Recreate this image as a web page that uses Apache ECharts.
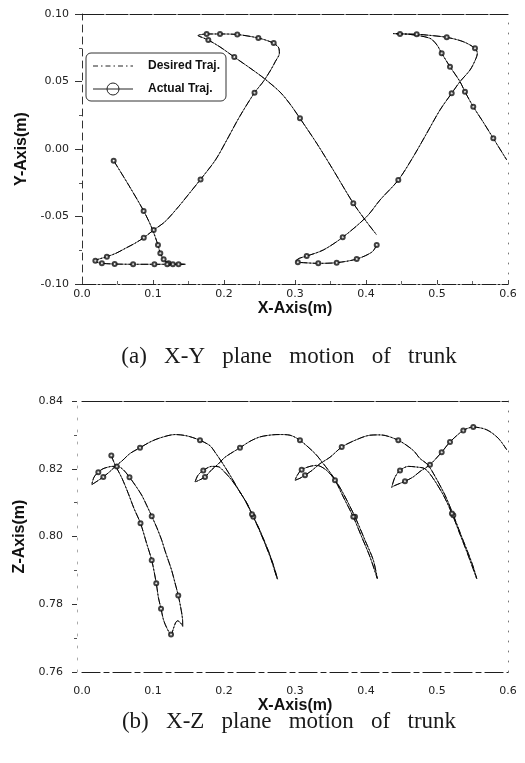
<!DOCTYPE html>
<html><head><meta charset="utf-8">
<script src="https://cdn.jsdelivr.net/npm/echarts@6/dist/echarts.min.js"></script>
<style>html,body{margin:0;padding:0;background:#fff}#c{width:525px;height:763px}</style>
</head><body><div id="c"></div>
<script>
// ---------- (a) X-Y plane : trunk trajectory [x(m), y(m)] ----------
const xyTransient = [[0.045,-0.009],[0.066,-0.027],[0.087,-0.046],[0.0986,-0.0588],[0.107,-0.0711],[0.1103,-0.0773],[0.115,-0.0817],[0.122,-0.0847],[0.133,-0.0853],[0.1455,-0.0854]];
const xyStep1 = [[0.1455,-0.0854],[0.136,-0.0854],[0.128,-0.0854],[0.120,-0.0854],[0.102,-0.0854],[0.072,-0.0854],[0.046,-0.0852],[0.028,-0.0847],[0.0215,-0.0840],[0.0188,-0.0827],
 [0.024,-0.0815],[0.035,-0.0798],[0.048,-0.0772],[0.061,-0.0736],[0.074,-0.0700],[0.087,-0.0657],[0.101,-0.0600],[0.117,-0.0538],[0.136,-0.0427],[0.151,-0.0330],[0.167,-0.0225],[0.188,-0.0081],[0.204,0.0067],[0.222,0.0240],[0.243,0.0417],[0.2554,0.0500],[0.2658,0.0585],[0.2725,0.0650],[0.278,0.0709],
 [0.2765,0.0755],[0.2672,0.0790],[0.2484,0.0822],[0.2187,0.0848],[0.1944,0.0852],[0.1756,0.0852],[0.1660,0.0846],[0.1635,0.0840],
 [0.1700,0.0825],[0.1779,0.0807],[0.1944,0.0756],[0.2145,0.0681],[0.2366,0.0600],[0.2563,0.0524],[0.2789,0.0422],[0.2930,0.0333],[0.3070,0.0227],[0.3306,0.0042],[0.3539,-0.0156],[0.3821,-0.0402],[0.4010,-0.0541],[0.4151,-0.0637]];
const xyStep2 = [[0.4151,-0.0711],[0.4085,-0.0763],[0.3869,-0.0815],[0.3587,-0.0842],[0.3328,-0.0847],[0.3117,-0.0842],[0.3040,-0.0838],[0.3014,-0.0830],
 [0.3060,-0.0810],[0.3165,-0.0793],[0.3399,-0.0748],[0.3672,-0.0654],[0.4010,-0.0501],[0.4197,-0.0378],[0.4455,-0.0230],[0.4666,-0.0057],[0.4855,0.0116],[0.5042,0.0289],[0.5207,0.0413],[0.5324,0.0499],[0.5465,0.0585],[0.5540,0.0660],[0.5568,0.0709],
 [0.5535,0.0746],[0.5370,0.0795],[0.5137,0.0827],[0.4855,0.0844],[0.4714,0.0850],[0.4479,0.0852],[0.4385,0.0855],
 [0.4600,0.0850],[0.4901,0.0820],[0.5000,0.0770],[0.5066,0.0709],[0.5183,0.0610],[0.5324,0.0499],[0.5394,0.0424],[0.5511,0.0313],[0.5650,0.0200],[0.5793,0.0079],[0.5982,-0.0081]];
const xyActualMarks = [[0.0446,-0.0087],[0.0868,-0.0460],[0.107,-0.0711],[0.1103,-0.0773],[0.115,-0.0817],[0.122,-0.0847],
 [0.136,-0.0854],[0.128,-0.0854],[0.120,-0.0854],[0.102,-0.0854],[0.072,-0.0854],[0.046,-0.0852],[0.028,-0.0847],[0.0188,-0.0827],
 [0.035,-0.0798],[0.087,-0.0657],[0.101,-0.0600],[0.167,-0.0225],[0.243,0.0417],
 [0.1756,0.0852],[0.1944,0.0852],[0.2187,0.0848],[0.2484,0.0822],[0.2700,0.0785],
 [0.1779,0.0807],[0.2145,0.0681],[0.3070,0.0227],[0.3821,-0.0402],
 [0.4151,-0.0711],[0.3869,-0.0815],[0.3587,-0.0842],[0.3328,-0.0847],[0.3040,-0.0838],[0.3165,-0.0793],[0.3672,-0.0654],[0.4455,-0.0230],
 [0.5207,0.0413],[0.4479,0.0852],[0.4714,0.0850],[0.5137,0.0827],[0.5535,0.0746],
 [0.5066,0.0709],[0.5183,0.0610],[0.5394,0.0424],[0.5511,0.0313],[0.5793,0.0079]];
const xyActual = [xyTransient, xyStep1, xyStep2];
const xyDesired = [xyTransient, xyStep1, xyStep2];

// ---------- (b) X-Z plane : trunk trajectory [x(m), z(m)] ----------
const xzPath = [[0.0413,0.8239],[0.0444,0.8222],[0.0479,0.8206],[0.0563,0.8172],[0.0652,0.8127],[0.0732,0.8083],[0.0824,0.8039],[0.0911,0.7979],[0.0982,0.7930],[0.1046,0.7862],[0.1077,0.7819],[0.1113,0.7787],[0.1145,0.7756],[0.1190,0.7732],[0.1254,0.7711],
 [0.1289,0.7729],[0.1317,0.7745],[0.1345,0.7751],[0.1380,0.7747],[0.1418,0.7735],
 [0.1415,0.7758],[0.1387,0.7794],[0.1356,0.7826],[0.1310,0.7863],[0.1263,0.7900],[0.1215,0.7930],[0.1169,0.7958],[0.1123,0.7989],[0.1052,0.8027],[0.0982,0.8060],[0.0911,0.8092],[0.0841,0.8122],[0.0754,0.8150],[0.0669,0.8175],[0.0577,0.8198],[0.0500,0.8207],
 [0.0423,0.8207],[0.0370,0.8205],[0.0296,0.8200],[0.0230,0.8190],[0.0169,0.8175],[0.0137,0.8153],
 [0.0211,0.8163],[0.0300,0.8176],[0.0394,0.8192],[0.0479,0.8209],
 [0.0563,0.8223],[0.0676,0.8245],[0.0817,0.8262],[0.0958,0.8279],[0.1099,0.8291],[0.1310,0.8301],[0.1479,0.8297],[0.1662,0.8284],[0.1803,0.8268],[0.1873,0.8249],[0.1968,0.8220],[0.2085,0.8181],[0.2225,0.8131],[0.2324,0.8098],[0.2413,0.8058],[0.2493,0.8021],[0.2577,0.7979],[0.2662,0.7933],[0.2742,0.7880],[0.2754,0.7874],
 [0.2711,0.7906],[0.2648,0.7945],[0.2570,0.7986],[0.2486,0.8027],[0.2394,0.8066],[0.2303,0.8104],[0.2204,0.8138],[0.2099,0.8169],[0.2000,0.8192],[0.1920,0.8206],
 [0.1827,0.8207],[0.1708,0.8195],[0.1634,0.8181],[0.1592,0.8161],
 [0.1648,0.8166],[0.1732,0.8176],[0.1831,0.8198],[0.1915,0.8213],
 [0.2014,0.8234],[0.2225,0.8262],[0.2366,0.8281],[0.2507,0.8294],[0.2676,0.8300],[0.2790,0.8301],[0.2930,0.8299],[0.3070,0.8284],[0.3282,0.8245],[0.3399,0.8215],[0.3539,0.8176],[0.3680,0.8127],[0.3845,0.8058],[0.3986,0.7989],[0.4103,0.7930],[0.4159,0.7876],
 [0.4056,0.7940],[0.3939,0.7999],[0.3821,0.8058],[0.3680,0.8117],[0.3563,0.8166],[0.3446,0.8195],[0.3306,0.8210],
 [0.3211,0.8207],[0.3094,0.8197],[0.3030,0.8180],[0.3000,0.8166],
 [0.3070,0.8172],[0.3141,0.8181],[0.3239,0.8195],[0.3352,0.8215],
 [0.3493,0.8234],[0.3658,0.8264],[0.3845,0.8284],[0.4056,0.8299],[0.4200,0.8300],[0.4455,0.8284],[0.4666,0.8254],[0.4761,0.8230],[0.4855,0.8215],[0.4925,0.8195],[0.5113,0.8122],[0.5230,0.8063],[0.5348,0.7999],[0.5441,0.7950],[0.5511,0.7910],[0.5559,0.7876],
 [0.5420,0.7955],[0.5327,0.8005],[0.5210,0.8068],[0.5090,0.8122],[0.4944,0.8172],[0.4831,0.8200],[0.4714,0.8205],
 [0.4596,0.8207],[0.4479,0.8195],[0.4408,0.8175],[0.4362,0.8145],
 [0.4400,0.8150],[0.4549,0.8163],[0.4666,0.8176],[0.4761,0.8192],[0.4901,0.8212],
 [0.5066,0.8249],[0.5183,0.8279],[0.5370,0.8313],[0.5511,0.8323],[0.5700,0.8315],[0.5863,0.8290],[0.5982,0.8256]];
const xzActualMarks = [[0.0413,0.8239],[0.0824,0.8039],[0.0982,0.7930],[0.1046,0.7862],[0.1113,0.7787],[0.1254,0.7711],
 [0.1356,0.7826],[0.0982,0.8060],[0.0669,0.8175],[0.0490,0.8207],
 [0.0230,0.8190],[0.0300,0.8176],[0.0817,0.8262],[0.1662,0.8284],[0.2413,0.8058],
 [0.2394,0.8066],[0.1708,0.8195],[0.1732,0.8176],[0.2225,0.8262],[0.3070,0.8284],[0.3845,0.8058],
 [0.3821,0.8058],[0.3563,0.8166],[0.3094,0.8197],[0.3141,0.8181],[0.3658,0.8264],[0.4455,0.8284],[0.5230,0.8063],
 [0.5210,0.8068],[0.4479,0.8195],[0.4549,0.8163],[0.4901,0.8212],[0.5066,0.8249],[0.5183,0.8279],[0.5370,0.8313],[0.5511,0.8323]];
const xzActual = [xzPath];
const xzDesired = [xzPath];

// ---------- axes / text ----------
const xRange = [0, 0.6, 0.1];
const yRangeXY = [-0.1, 0.1, 0.05];
const zRangeXZ = [0.76, 0.84, 0.02];
const xName = 'X-Axis(m)', yName = 'Y-Axis(m)', zName = 'Z-Axis(m)';
const captionA = '(a)   X-Y   plane   motion   of   trunk';
const captionB = '(b)   X-Z   plane   motion   of   trunk';
const legendNames = ['Desired Traj.', 'Actual Traj.'];

const INK = '#1e1e1e';
const tickFont = {fontFamily: 'DejaVu Sans', fontSize: 11, color: '#222'};
const nameFont = {fontFamily: 'Liberation Sans', fontSize: 16, fontWeight: 'bold', color: '#111'};

function xAxes(grid, bottomDash, topDash, labelMargin, nameGap, ticks) {
  return [{
    gridIndex: grid, type: 'value', position: 'bottom', min: xRange[0], max: xRange[1], interval: xRange[2],
    axisLine: {show: true, onZero: false, lineStyle: {color: INK, width: 1.2, type: bottomDash}},
    axisTick: {show: ticks, inside: true, length: 4, lineStyle: {color: '#444'}},
    minorTick: {show: ticks, splitNumber: 2, length: 3, lineStyle: {color: '#666'}},
    axisLabel: Object.assign({margin: labelMargin, formatter: v => v.toFixed(1)}, tickFont),
    splitLine: {show: false},
    name: xName, nameLocation: 'middle', nameGap: nameGap, nameTextStyle: nameFont
  }, {
    gridIndex: grid, type: 'value', position: 'top', min: xRange[0], max: xRange[1], interval: xRange[2],
    axisLine: {show: true, onZero: false, lineStyle: {color: INK, width: 1.2, type: topDash}},
    axisTick: {show: false}, axisLabel: {show: false}, splitLine: {show: false}
  }];
}
function yAxes(grid, range, name, leftStyle, offset, labelMargin, nameGap, tickLen) {
  return [{
    gridIndex: grid, type: 'value', position: 'left', offset: offset, min: range[0], max: range[1], interval: range[2],
    axisLine: {show: true, onZero: false, lineStyle: leftStyle},
    axisTick: {show: true, inside: false, length: tickLen, lineStyle: {color: '#333'}},
    minorTick: {show: true, splitNumber: 2, length: 3, lineStyle: {color: '#555'}},
    axisLabel: Object.assign({margin: labelMargin, formatter: v => v.toFixed(2)}, tickFont),
    splitLine: {show: false},
    name: name, nameLocation: 'middle', nameGap: nameGap, nameTextStyle: nameFont
  }, {
    gridIndex: grid, type: 'value', position: 'right', min: range[0], max: range[1], interval: range[2],
    axisLine: {show: true, onZero: false, lineStyle: {color: '#777', width: 1, type: [1, 9]}},
    axisTick: {show: false}, axisLabel: {show: false}, splitLine: {show: false}
  }];
}

const series = [];
function addPlot(xi, yi, actual, desired, marks) {
  actual.forEach(seg => series.push({
    name: legendNames[1], type: 'line', xAxisIndex: xi, yAxisIndex: yi, data: seg,
    showSymbol: false, smooth: 0.3, z: 2, lineStyle: {color: '#4a4a4a', width: 0.9}
  }));
  desired.forEach(seg => series.push({
    name: legendNames[0], type: 'line', xAxisIndex: xi, yAxisIndex: yi, data: seg,
    showSymbol: false, smooth: 0.3, z: 3, lineStyle: {color: '#000', width: 1, type: [7, 2, 1.5, 2]}
  }));
  series.push({
    name: legendNames[1], type: 'scatter', xAxisIndex: xi, yAxisIndex: yi, data: marks,
    symbol: 'emptyCircle', symbolSize: 4, z: 4, itemStyle: {color: '#111', borderWidth: 0.8}
  });
}
addPlot(0, 0, xyActual, xyDesired, xyActualMarks);
addPlot(2, 2, xzActual, xzDesired, xzActualMarks);

const chart = echarts.init(document.getElementById('c'), null, {renderer: 'canvas'});
chart.setOption({
  animation: false,
  backgroundColor: '#fff',
  grid: [
    {left: 82, top: 14, width: 426, height: 270},
    {left: 82, top: 401, width: 426, height: 271}
  ],
  xAxis: [].concat(
    xAxes(0, [14, 2, 2, 2], [22, 2], 5, 16, true),
    xAxes(1, [18, 4, 5, 4], [40, 2], 14, 24, false)
  ),
  yAxis: [].concat(
    yAxes(0, yRangeXY, yName, {color: '#333', width: 1, type: [7, 5]}, 0, 13, 52, 7),
    yAxes(1, zRangeXZ, zName, {color: '#aaa', width: 1, type: [2, 10]}, 5, 14, 47, 5)
  ),
  series: series,
  graphic: [
    {type: 'rect', shape: {x: 86, y: 53, width: 140, height: 48, r: 5}, style: {fill: '#fff', stroke: '#333', lineWidth: 1}, z: 10},
    {type: 'line', shape: {x1: 93, y1: 66, x2: 133, y2: 66}, style: {stroke: '#222', lineWidth: 1, lineDash: [5, 3, 1.5, 3]}, z: 11},
    {type: 'text', x: 148, y: 66, style: {text: legendNames[0], font: 'bold 12px "Liberation Sans"', fill: '#111', textVerticalAlign: 'middle', verticalAlign: 'middle'}, z: 11},
    {type: 'line', shape: {x1: 93, y1: 89, x2: 133, y2: 89}, style: {stroke: '#222', lineWidth: 1}, z: 11},
    {type: 'circle', shape: {cx: 113, cy: 89, r: 6}, style: {fill: 'none', stroke: '#222', lineWidth: 1}, z: 11},
    {type: 'text', x: 148, y: 89, style: {text: legendNames[1], font: 'bold 12px "Liberation Sans"', fill: '#111', textVerticalAlign: 'middle', verticalAlign: 'middle'}, z: 11},
    {type: 'text', x: 289, y: 357, style: {text: captionA, font: '23px "Liberation Serif"', fill: '#1a1a1a', textAlign: 'center', align: 'center', textVerticalAlign: 'middle', verticalAlign: 'middle'}},
    {type: 'text', x: 289, y: 722, style: {text: captionB, font: '23px "Liberation Serif"', fill: '#1a1a1a', textAlign: 'center', align: 'center', textVerticalAlign: 'middle', verticalAlign: 'middle'}}
  ]
});
</script>
</body></html>
